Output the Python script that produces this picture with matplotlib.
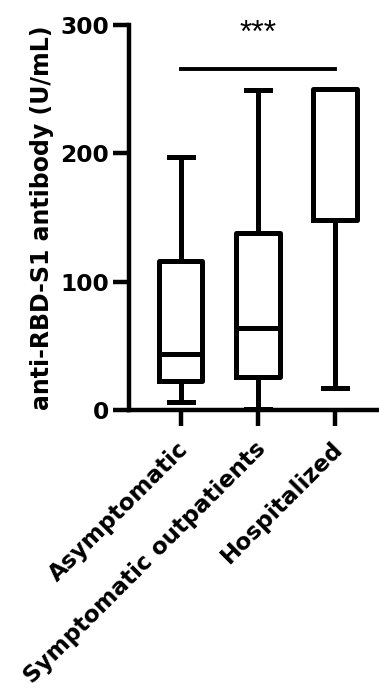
import matplotlib
matplotlib.use("Agg")
import matplotlib.pyplot as plt
import matplotlib.transforms as mtransforms

categories = ["Asymptomatic", "Symptomatic outpatients", "Hospitalized"]
whislo = [6.5, 1.0, 17.0]
q1 = [23.0, 26.0, 148.0]
median = [44.0, 64.0, 250.0]
q3 = [116.0, 138.0, 250.0]
whishi = [197.0, 249.0, 250.0]
yticks = [0, 100, 200, 300]
sig_label = "***"
sig_y = 266

plt.rcParams['font.family'] = ['DejaVu Sans']

fig = plt.figure(figsize=(3.79, 6.93), dpi=100)
ax = fig.add_axes([0.340, 0.408, 0.66, 0.556])

stats = []
for i, c in enumerate(categories):
    stats.append(dict(label=c, whislo=whislo[i], q1=q1[i], med=median[i],
                      q3=q3[i], whishi=whishi[i], fliers=[]))

lw = 3.6
ax.bxp(stats, positions=range(len(categories)), widths=0.56, showfliers=False,
       boxprops=dict(color='black', linewidth=lw),
       medianprops=dict(color='black', linewidth=lw, solid_capstyle='butt'),
       whiskerprops=dict(color='black', linewidth=lw),
       capprops=dict(color='black', linewidth=lw),
       capwidths=0.32)

ax.set_xlim(-0.675, 2.57)
ax.set_ylim(0, 300)

for s in ['top', 'right']:
    ax.spines[s].set_visible(False)
for s in ['left', 'bottom']:
    ax.spines[s].set_linewidth(3.2)
ax.tick_params(axis='both', width=3.2, length=11.5, direction='out', pad=3)

ax.set_yticks(yticks)
ax.set_yticklabels([str(t) for t in yticks], fontsize=16.8, fontweight='bold')
ax.set_xticks(range(len(categories)))
ax.set_xticklabels(categories, fontsize=16.7, fontweight='bold', rotation=45,
                   ha='right', va='top', rotation_mode='anchor')
offset = mtransforms.ScaledTranslation(-4 / 100, -7 / 100, fig.dpi_scale_trans)
for lab in ax.get_xticklabels():
    lab.set_transform(lab.get_transform() + offset)
ax.set_ylabel("anti-RBD-S1 antibody (U/mL)", fontsize=17, fontweight='bold', labelpad=4)

ax.plot([0, 2], [sig_y, sig_y], color='black', linewidth=2.8, clip_on=False)
ax.text(1, 287, sig_label, ha='center', va='baseline', fontsize=23,
        family='Liberation Sans', clip_on=False)

fig.savefig("out.png", dpi=100)
